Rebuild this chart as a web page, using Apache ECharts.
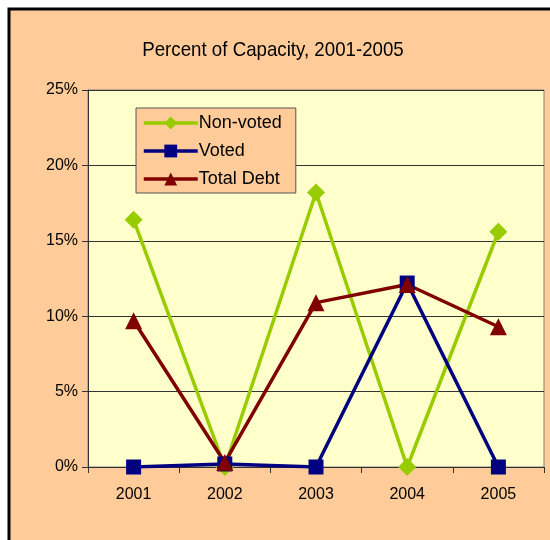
<!DOCTYPE html>
<html>
<head>
<meta charset="utf-8">
<script src="https://cdn.jsdelivr.net/npm/echarts@6/dist/echarts.min.js"></script>
<style>
  html, body { margin: 0; padding: 0; background: #fff; }
  #main { width: 550px; height: 540px; }
</style>
</head>
<body>
<div id="main"></div>
<script>
var years = ['2001', '2002', '2003', '2004', '2005'];
var nonVoted = [16.4, 0, 18.2, 0, 15.6];
var voted = [0, 0.2, 0, 12.2, 0];
var totalDebt = [9.7, 0.3, 10.9, 12.1, 9.3];

var chart = echarts.init(document.getElementById('main'));

function line(name, data, color, symbol, size) {
    return {
        name: name,
        type: 'line',
        data: data,
        symbol: symbol,
        symbolSize: size,
        lineStyle: { color: color, width: 3.5 },
        itemStyle: { color: color },
        emphasis: { disabled: true }
    };
}

chart.setOption({
    animation: false,
    graphic: [{
        type: 'rect',
        z: -10,
        shape: { x: 9, y: 9, width: 600, height: 600 },
        style: { fill: '#FFCC99', stroke: '#000', lineWidth: 3 }
    }, {
        // narrow title, like Arial Narrow
        type: 'text',
        x: 273, y: 50,
        scaleX: 0.89,
        style: {
            text: 'Percent of Capacity, 2001-2005',
            font: '21px "Liberation Sans", Arial, sans-serif',
            fill: '#000',
            align: 'center',
            verticalAlign: 'middle'
        }
    }],
    legend: {
        orient: 'vertical',
        left: 136,
        top: 108,
        padding: [6, 14, 5, 6],
        itemGap: 10,
        itemWidth: 54,
        itemHeight: 16,
        backgroundColor: '#FFCC99',
        borderColor: '#555',
        borderWidth: 1,
        borderRadius: 0,
        lineStyle: { width: 3.5 },
        textStyle: { fontFamily: 'Liberation Sans, Arial, sans-serif', fontSize: 18, color: '#000', padding: [0, 0, 0, -4] },
        data: ['Non-voted', 'Voted', 'Total Debt']
    },
    grid: {
        left: 88, right: 6, top: 90, bottom: 73,
        show: true,
        backgroundColor: '#FFFFCC',
        borderColor: '#808080',
        borderWidth: 1
    },
    xAxis: {
        type: 'category',
        data: years,
        boundaryGap: true,
        axisLine: { lineStyle: { color: '#333', width: 1 } },
        axisTick: { show: true, length: 6, lineStyle: { color: '#333' } },
        axisLabel: { margin: 20, fontFamily: 'Liberation Sans, Arial, sans-serif', fontSize: 16, color: '#000' }
    },
    yAxis: {
        type: 'value',
        min: 0, max: 25, interval: 5,
        axisLine: { show: true, lineStyle: { color: '#333', width: 1 } },
        axisTick: { show: true, length: 6, lineStyle: { color: '#333' } },
        splitLine: { lineStyle: { color: '#333', width: 1 } },
        axisLabel: { margin: 10, formatter: '{value}%', fontFamily: 'Liberation Sans, Arial, sans-serif', fontSize: 16, color: '#000' }
    },
    series: [
        line('Non-voted', nonVoted, '#99CC00', 'diamond', 18),
        line('Voted', voted, '#000080', 'rect', 15),
        line('Total Debt', totalDebt, '#800000', 'triangle', 17)
    ]
});
</script>
</body>
</html>
